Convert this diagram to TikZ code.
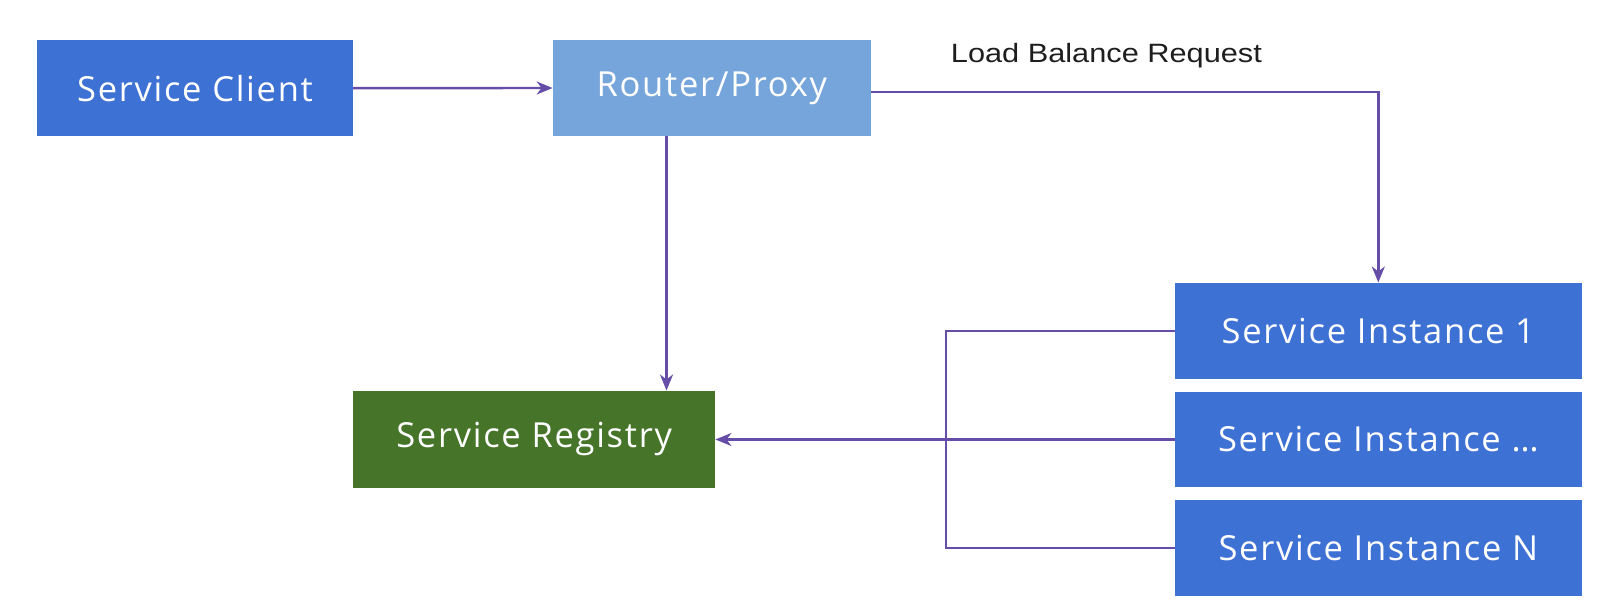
\documentclass[tikz,border=0pt]{standalone}
\usepackage{fontspec}
\setmainfont{Open Sans}[LetterSpace=5]
\newfontfamily\labelfont{Liberation Sans}
\usetikzlibrary{arrows.meta}

\definecolor{clientblue}{RGB}{62,113,212}
\definecolor{proxyblue}{RGB}{118,165,219}
\definecolor{registrygreen}{RGB}{70,117,42}
\definecolor{linkpurple}{RGB}{102,78,168}
\definecolor{labelgrey}{RGB}{30,30,30}

\tikzset{
  box/.style={rectangle, inner sep=0pt, text=white,
    font=\fontsize{34.5}{40}\selectfont},
  link/.style={draw=linkpurple, line width=2.4pt},
  conn/.style={link, -{Stealth[length=16pt, width=13pt, inset=5pt]}},
}

\begin{document}
\begin{tikzpicture}[x=1pt, y=-1pt]
  \useasboundingbox[fill=white] (0,0) rectangle (1606,610);

  % top row
  \node[box, fill=clientblue, minimum width=316pt, minimum height=96.5pt]
    (client) at (195,88.2) {Service Client};
  \node[box, fill=proxyblue, minimum width=318pt, minimum height=96pt]
    (proxy) at (711.8,88) {Router/Proxy};

  % registry
  \node[box, fill=registrygreen, minimum width=362pt, minimum height=97pt]
    (registry) at (534.2,439.2) {Service Registry};

  % service instances
  \node[box, fill=clientblue, minimum width=406.7pt, minimum height=96pt]
    (inst1) at (1378.3,330.7) {Service Instance 1};
  \node[box, fill=clientblue, minimum width=406.7pt, minimum height=95pt]
    (inst2) at (1378.3,439.5) {Service Instance \dots};
  \node[box, fill=clientblue, minimum width=406.7pt, minimum height=96pt]
    (inst3) at (1378.3,548) {Service Instance N};

  % edge label
  \node[anchor=base west, inner sep=0pt, text=labelgrey, xscale=1.16,
    font=\labelfont\fontsize{26.5}{30}\selectfont]
    (lblabel) at (950.7,62.3) {Load Balance Request};

  % junction of the instance bus
  \coordinate (bus) at (945.7,439.5);

  % connectors
  \draw[conn] (client.east) -- (proxy.west);
  \draw[conn] ([yshift=-3.7pt]proxy.east) -| (inst1.north);
  \draw[conn] ([xshift=-45.3pt]proxy.south) -- ([xshift=-45.3pt]proxy.south |- registry.north);
  \draw[link] (inst1.west) -| (bus) |- (inst3.west);
  \draw[conn] (inst2.west) -- (inst2.west -| registry.east);
\end{tikzpicture}
\end{document}
